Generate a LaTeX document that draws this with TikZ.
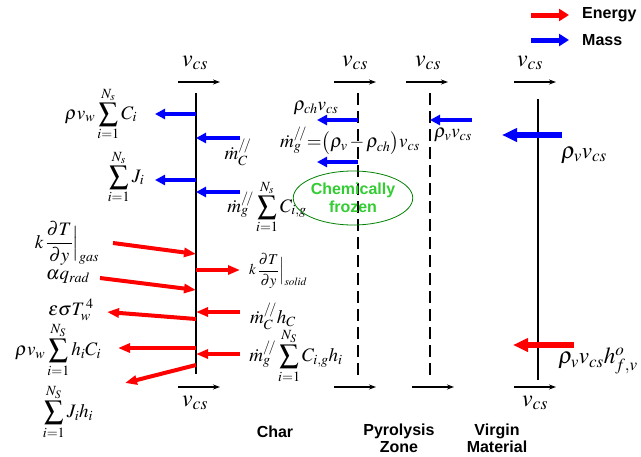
\documentclass[tikz,border=0pt]{standalone}
\usepackage{amsmath}
\usepackage{mathptmx}
\usepackage[no-math]{fontspec}
\setsansfont{Liberation Sans}
\usetikzlibrary{arrows.meta, positioning, calc, shapes.geometric}
\definecolor{frozen}{RGB}{51,204,51}
\definecolor{frozenline}{RGB}{0,128,0}

\begin{document}
\begin{tikzpicture}[
    x=1pt, y=-1pt,
    >=Stealth,
    % walls and fronts
    wall/.style={line width=2.2pt},
    front/.style={line width=2.4pt, dash pattern=on 12pt off 6pt},
    % flux arrows
    mass/.style={draw=blue, line width=4pt, -{Triangle[length=10pt,width=10pt]}},
    energy/.style={draw=red, line width=4pt, -{Triangle[length=12pt,width=9pt]}},
    bigmass/.style={draw=blue, line width=6.5pt, -{Triangle[length=15pt,width=13pt]}},
    bigenergy/.style={draw=red, line width=6.5pt, -{Triangle[length=15pt,width=13pt]}},
    keymass/.style={draw=blue, line width=5pt, -{Triangle[length=10pt,width=12pt]}},
    keyenergy/.style={draw=red, line width=5pt, -{Triangle[length=10pt,width=12pt]}},
    vel/.style={line width=1.1pt, -{Stealth[length=7pt,width=5pt]}},
    % labels
    lbl/.style={font=\fontsize{19}{22}\selectfont, inner sep=0pt},
    slbl/.style={font=\fontsize{15}{18}\selectfont, inner sep=0pt},
    blbl/.style={font=\fontsize{23}{26}\selectfont, inner sep=0pt},
    vlbl/.style={font=\fontsize{24}{28}\selectfont, inner sep=0pt},
    zonelbl/.style={font=\sffamily\bfseries\fontsize{16}{17}\selectfont, align=center, inner sep=0pt},
    keylbl/.style={font=\sffamily\bfseries\fontsize{16}{18}\selectfont, anchor=west, inner sep=0pt}
]
    \useasboundingbox (0,0) rectangle (641,456);

    % --- Legend ---
    \coordinate (keyE0) at (531,15);
    \coordinate (keyE1) at (569,15);
    \coordinate (keyM0) at (531,40);
    \coordinate (keyM1) at (569,40);
    \draw[keyenergy] (keyE0) -- (keyE1);
    \draw[keymass] (keyM0) -- (keyM1);
    \node[keylbl] (keyEtxt) at (582,15) {Energy};
    \node[keylbl] (keyMtxt) at (582,40) {Mass};

    % --- Surface, pyrolysis fronts and virgin boundary ---
    \coordinate (charT) at (196,93);   \coordinate (charB) at (196,374);
    \coordinate (pyrAT) at (358,93);   \coordinate (pyrAB) at (358,375);
    \coordinate (pyrBT) at (430,93);   \coordinate (pyrBB) at (430,375);
    \coordinate (virgT) at (538,99);   \coordinate (virgB) at (538,380);
    \draw[wall] (charT) -- (charB);
    \draw[front] (pyrAT) -- (pyrAB);
    \draw[front] (pyrBT) -- (pyrBB);
    \draw[wall] (virgT) -- (virgB);

    % --- Recession velocity, above and below ---
    \foreach \n/\xa/\xb/\xc/\xd in {char/178/220/178/220, pyrA/334/376/334/376,
                                    pyrB/406/448/412/454, virg/514/556/514/556} {
        \coordinate (\n top0) at (\xa,82);  \coordinate (\n top1) at (\xb,82);
        \coordinate (\n bot0) at (\xc,387); \coordinate (\n bot1) at (\xd,387);
        \draw[vel] (\n top0) -- (\n top1);
        \draw[vel] (\n bot0) -- (\n bot1);
    }
    \node[vlbl] (vchar) at (195,63) {$v_{cs}$};
    \node[vlbl] (vpyrA) at (355,63) {$v_{cs}$};
    \node[vlbl] (vpyrB) at (428,63) {$v_{cs}$};
    \node[vlbl] (vvirg) at (530,63) {$v_{cs}$};
    \node[vlbl] (vcharB) at (195,403) {$v_{cs}$};
    \node[vlbl] (vvirgB) at (535,403) {$v_{cs}$};

    % --- Mass fluxes ---
    \foreach \n/\xa/\ya/\xb/\yb in {1/196/114/155/114, 2/240/138/196/138,
                                    3/196/180/155/180, 4/240/192/196/192,
                                    5/358/120/317/120, 6/358/162/317/162,
                                    7/472/120/430/120} {
        \coordinate (m\n s) at (\xa,\ya);
        \coordinate (m\n e) at (\xb,\yb);
        \draw[mass] (m\n s) -- (m\n e);
    }
    \coordinate (m8s) at (562,135);
    \coordinate (m8e) at (502,135);
    \draw[bigmass] (m8s) -- (m8e);

    % --- Energy fluxes ---
    \foreach \n/\xa/\ya/\xb/\yb in {1/113/243/196/254, 2/196/270/240/270,
                                    3/100/278/196/290, 4/196/319/107/312,
                                    5/240/312/196/312, 6/196/348/118/348,
                                    7/240/354/196/354, 8/196/365/125/383} {
        \coordinate (e\n s) at (\xa,\ya);
        \coordinate (e\n e) at (\xb,\yb);
        \draw[energy] (e\n s) -- (e\n e);
    }
    \coordinate (e9s) at (574,345);
    \coordinate (e9e) at (513,345);
    \draw[bigenergy] (e9s) -- (e9e);

    % --- Mass labels ---
    \node[lbl] (convC) at (101,114) {$\displaystyle \rho v_{w} \sum_{i=1}^{N_s} C_{i}$};
    \node[lbl] (mdotC) at (238,152) {$\dot m^{/\!/}_{C}$};
    \node[lbl] (diffJ) at (126,177) {$\displaystyle \sum_{i=1}^{N_s} J_{i}$};
    \node[lbl] (mdotG) at (267,207) {$\displaystyle \dot m^{/\!/}_{g} \sum_{i=1}^{N_s} C_{i,g}$};
    \node[lbl] (rhoch) at (316,108) {$\rho_{ch} v_{cs}$};
    \node[lbl] (mdotpyr) at (350,141) {$\dot m^{/\!/}_{g}{=}\bigl(\rho_{v}{\,-\,}\rho_{ch}\bigr)v_{cs}$};
    \node[lbl] (rhovA) at (453,135) {$\rho_{v} v_{cs}$};
    \node[blbl] (rhovB) at (584,155) {$\rho_{v} v_{cs}$};

    % --- Energy labels ---
    \node[lbl] (qgas) at (67,243) {$\displaystyle k\,\frac{\partial T}{\partial y}\Big|_{\mathit{gas}}$};
    \node[lbl] (qrad) at (68,277) {$\alpha q_{rad}$};
    \node[lbl] (qrr) at (71,310) {$\varepsilon \sigma T_{w}^{\,4}$};
    \node[lbl] (hconv) at (58,350) {$\displaystyle \rho v_{w} \sum_{i=1}^{N_S} h_{i} C_{i}$};
    \node[lbl] (hdiff) at (68,412) {$\displaystyle \sum_{i=1}^{N_S} J_{i} h_{i}$};
    \node[slbl] (qsolid) at (278,271) {$\displaystyle k\,\frac{\partial T}{\partial y}\Big|_{\mathit{solid}}$};
    \node[lbl] (hC) at (273,316) {$\dot m^{/\!/}_{C} h_{C}$};
    \node[lbl] (hG) at (296,356) {$\displaystyle \dot m^{/\!/}_{g} \sum_{i=1}^{N_S} C_{i,g} h_{i}$};
    \node[blbl] (hvirg) at (598,361) {$\rho_{v} v_{cs} h^{o}_{f,v}$};

    % --- Frozen zone ---
    \node[ellipse, draw=frozenline, thick, minimum width=106pt, minimum height=54pt,
          text=frozen, font=\sffamily\bfseries\fontsize{16}{18}\selectfont, align=center,
          inner sep=0pt] (frozenzone) at (353,198) {Chemically\\frozen};

    % --- Zone names ---
    \node[zonelbl] (zchar) at (275,432) {Char};
    \node[zonelbl] (zpyr) at (399,438) {Pyrolysis\\Zone};
    \node[zonelbl] (zvirg) at (497,438) {Virgin\\Material};
\end{tikzpicture}
\end{document}
